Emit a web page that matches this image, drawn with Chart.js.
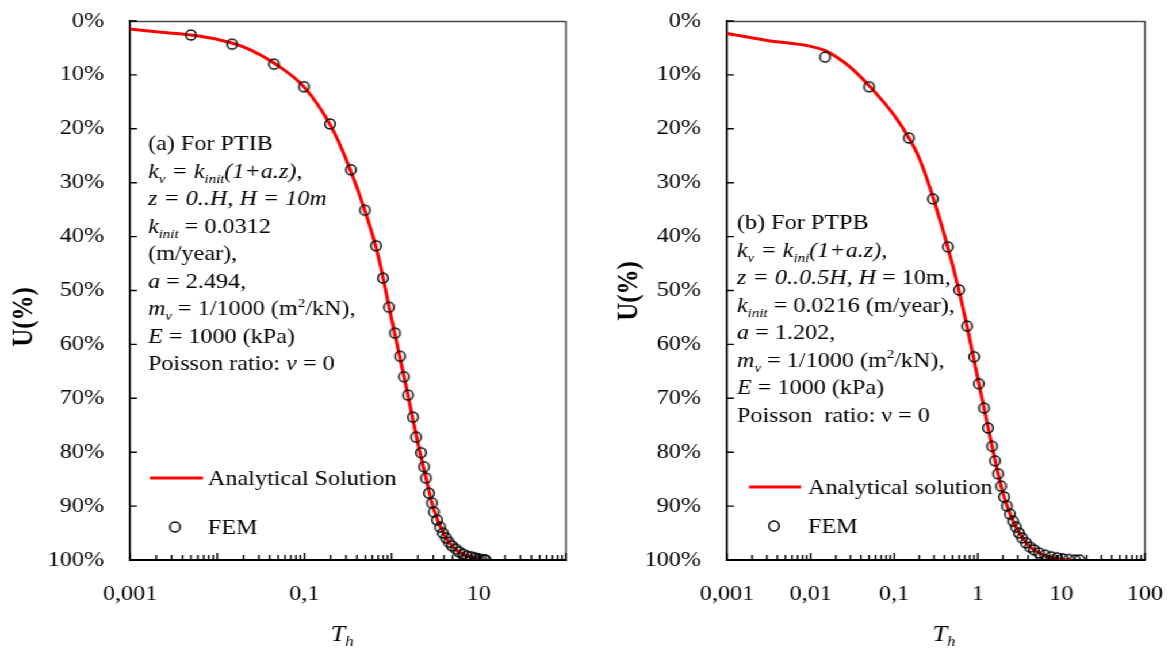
<!DOCTYPE html>
<html><head><meta charset="utf-8">
<script src="https://cdn.jsdelivr.net/npm/chart.js@4.4.0/dist/chart.umd.min.js"></script>
<style>
html,body{margin:0;padding:0;background:#fff;overflow:hidden;width:1172px;height:655px}
#wrap{position:absolute;left:0;top:0;width:1019px;height:655px;transform:scaleX(1.1501472);transform-origin:0 0;display:flex}
canvas{display:block}
</style></head><body>
<div id="wrap"><canvas id="cL" width="510" height="655"></canvas><canvas id="cR" width="509" height="655"></canvas></div>
<script>
// ---------- data ----------
const xTickValues = [0.001, 0.01, 0.1, 1, 10, 100];
const xTickLabelsL = ['0,001', '', '0,1', '', '10', ''];
const xTickLabelsR = ['0,001', '0,01', '0,1', '1', '10', '100'];
const yTickValues = [0, 10, 20, 30, 40, 50, 60, 70, 80, 90, 100];
const yTickLabels = ['0%', '10%', '20%', '30%', '40%', '50%', '60%', '70%', '80%', '90%', '100%'];

// (a) PTIB
const anaT_L = [0.001, 0.002, 0.005, 0.01, 0.02, 0.05, 0.1, 0.2, 0.3, 0.5, 0.7, 1, 1.5, 2, 2.5, 3, 4, 5, 6, 8, 10, 11];
const anaU_L = [1.5, 2.0, 2.6, 3.4, 4.8, 8.3, 12.3, 19.4, 25.6, 35.4, 43.5, 55.3, 68.5, 78.3, 85.0, 90.3, 95.3, 97.5, 98.6, 99.5, 99.9, 100];
const femT_L = [0.005, 0.0148, 0.0448, 0.099, 0.197, 0.342, 0.495, 0.662, 0.796, 0.933, 1.094, 1.248, 1.387, 1.542, 1.759, 1.905, 2.173, 2.354, 2.479, 2.685, 2.90, 3.06, 3.32, 3.59, 3.88, 4.20, 4.55, 4.93, 5.48, 5.93, 6.59, 7.33, 8.14, 9.04, 9.80, 10.6, 11.5, 12.0];
const femU_L = [2.6, 4.3, 8.0, 12.2, 19.1, 27.6, 35.1, 41.7, 47.7, 53.1, 57.9, 62.2, 66.0, 69.4, 73.5, 77.2, 80.1, 82.7, 84.8, 87.6, 89.4, 91.1, 92.6, 93.9, 95.0, 95.9, 96.7, 97.4, 98.0, 98.5, 98.9, 99.3, 99.4, 99.6, 99.8, 99.9, 100, 100];

// (b) PTPB
const anaT_R = [0.001, 0.003, 0.01, 0.015, 0.02, 0.03, 0.05, 0.1, 0.15, 0.2, 0.3, 0.5, 0.7, 1, 1.5, 2, 2.5, 3, 4, 5, 7, 10, 13];
const anaU_R = [2.3, 3.6, 4.7, 5.5, 6.6, 8.6, 12.0, 17.5, 21.7, 25.5, 33.3, 45.3, 54.8, 66.3, 79.3, 87.6, 91.9, 94.5, 97.2, 98.4, 99.4, 99.9, 100];
const femT_R = [0.0149, 0.050, 0.150, 0.291, 0.44, 0.596, 0.743, 0.902, 1.03, 1.186, 1.324, 1.479, 1.607, 1.745, 1.90, 2.06, 2.23, 2.43, 2.64, 2.86, 3.11, 3.38, 3.77, 4.21, 4.70, 5.40, 6.36, 7.51, 8.85, 10.4, 12.3, 14.5, 16.5];
const femU_R = [6.7, 12.2, 21.7, 33.0, 41.9, 49.9, 56.6, 62.3, 67.3, 71.8, 75.5, 78.9, 81.6, 84.0, 86.3, 88.3, 90.0, 91.5, 92.8, 93.9, 95.0, 95.9, 96.8, 97.6, 98.1, 98.7, 99.1, 99.4, 99.6, 99.8, 99.9, 100, 100];

const notesL = [
  [{t:'(a) For PTIB'}],
  [{t:'k',i:1},{t:'v',i:1,sub:1},{t:' = ',i:1},{t:'k',i:1},{t:'init',i:1,sub:1},{t:'(1+a.z),',i:1}],
  [{t:'z = 0..H, H = 10m',i:1}],
  [{t:'k',i:1},{t:'init',i:1,sub:1},{t:' = 0.0312'}],
  [{t:'(m/year),'}],
  [{t:'a',i:1},{t:' = 2.494,'}],
  [{t:'m',i:1},{t:'v',i:1,sub:1},{t:' = 1/1000 (m'},{t:'2',sup:1},{t:'/kN),'}],
  [{t:'E',i:1},{t:' = 1000 (kPa)'}],
  [{t:'Poisson ratio: '},{t:'ν',i:1},{t:' = 0'}]
];
const notesR = [
  [{t:'(b) For PTPB'}],
  [{t:'k',i:1},{t:'v',i:1,sub:1},{t:' = ',i:1},{t:'k',i:1},{t:'ini',i:1,sub:1},{t:'(1+a.z),',i:1}],
  [{t:'z = 0..0.5H, H',i:1},{t:' = 10m,'}],
  [{t:'k',i:1},{t:'init',i:1,sub:1},{t:' = 0.0216 (m/year),'}],
  [{t:'a',i:1},{t:' = 1.202,'}],
  [{t:'m',i:1},{t:'v',i:1,sub:1},{t:' = 1/1000 (m'},{t:'2',sup:1},{t:'/kN),'}],
  [{t:'E',i:1},{t:' = 1000 (kPa)'}],
  [{t:'Poisson  ratio: ν = 0'}]
];

// ---------- drawing helpers ----------
const S = 1172 / 1019;
const FONT = '"Liberation Serif", "Times New Roman", serif';
const FS = 21;

function makeCircle(r, lw) {
  const c = document.createElement('canvas');
  const w = 2 * Math.ceil(r + lw + 1);
  c.width = w; c.height = w;
  const g = c.getContext('2d');
  g.lineWidth = lw; g.strokeStyle = '#000';
  g.beginPath(); g.ellipse(w / 2, w / 2, r / S, r, 0, 0, 2 * Math.PI); g.stroke();
  return c;
}
const circleImg = makeCircle(5.1, 1.5);

function segFont(s, size) {
  const fs = (s.sub || s.sup) ? size * 0.62 : size;
  return (s.i ? 'italic ' : '') + (s.b ? 'bold ' : '') + fs + 'px ' + FONT;
}
function richWidth(ctx, segs, size) {
  let w = 0;
  for (const s of segs) { ctx.font = segFont(s, size); w += ctx.measureText(s.t).width; }
  return w;
}
function drawRich(ctx, x, yc, segs, size) {
  const base = yc + size * 0.34;
  let cx = x;
  ctx.textAlign = 'left'; ctx.textBaseline = 'alphabetic'; ctx.fillStyle = '#000';
  for (const s of segs) {
    ctx.font = segFont(s, size);
    const by = s.sub ? base + size * 0.24 : s.sup ? base - size * 0.4 : base;
    ctx.fillText(s.t, cx, by);
    cx += ctx.measureText(s.t).width;
  }
  return cx;
}

function makeDecor(p) {
  const iX = v => v / S - p.offset;
  return {
    id: 'decor' + p.offset,
    afterDraw(chart) {
      const ctx = chart.ctx, ca = chart.chartArea;
      const xs = chart.scales.x, ys = chart.scales.y;
      ctx.save();
      // top & right frame
      ctx.strokeStyle = '#4a4a4a'; ctx.lineWidth = 1.5;
      ctx.beginPath();
      ctx.moveTo(ca.left, ca.top + 0.5); ctx.lineTo(ca.right, ca.top + 0.5);
      ctx.moveTo(ca.right, ca.top); ctx.lineTo(ca.right, ca.bottom);
      ctx.stroke();
      // inward ticks
      ctx.strokeStyle = '#000'; ctx.lineWidth = 1.4;
      ctx.beginPath();
      for (const v of yTickValues) {
        const py = ys.getPixelForValue(v);
        ctx.moveTo(ca.left, py); ctx.lineTo(ca.left + 7 / S, py);
      }
      for (const d of xTickValues) {
        for (let m = 1; m <= 9; m++) {
          const v = d * m;
          if (v > xs.max * 1.0001) break;
          const px = xs.getPixelForValue(v);
          const len = m === 1 ? 7 : 5;
          ctx.moveTo(px, ca.bottom); ctx.lineTo(px, ca.bottom - len);
        }
      }
      ctx.stroke();
      // notes
      p.notes.forEach((segs, k) => drawRich(ctx, iX(p.noteX), p.noteY + k * 27.5, segs, FS));
      // legend
      const ana = chart.data.datasets[1], fem = chart.data.datasets[0];
      ctx.strokeStyle = ana.borderColor; ctx.lineWidth = ana.borderWidth;
      ctx.beginPath(); ctx.moveTo(iX(p.leg.lx0), p.leg.ly); ctx.lineTo(iX(p.leg.lx1), p.leg.ly); ctx.stroke();
      drawRich(ctx, iX(p.leg.tx), p.leg.ly, [{t: ana.label}], FS);
      ctx.drawImage(circleImg, iX(p.leg.cx) - circleImg.width / 2, p.leg.cy - circleImg.height / 2);
      drawRich(ctx, iX(p.leg.tx), p.leg.cy, [{t: fem.label}], FS);
      // y title
      ctx.save();
      ctx.translate(iX(p.yTitleX), p.yTitleY);
      ctx.rotate(-Math.PI / 2);
      ctx.font = 'bold 25px ' + FONT; ctx.fillStyle = '#000';
      ctx.textAlign = 'center'; ctx.textBaseline = 'middle';
      ctx.fillText('U(%)', 0, 0);
      ctx.restore();
      // x title
      const tsegs = [{t:'T', i:1}, {t:'h', i:1, sub:1}];
      const tw = richWidth(ctx, tsegs, 23);
      drawRich(ctx, iX(p.xTitleX) - tw / 2, 633, tsegs, 23);
      ctx.restore();
    }
  };
}

function buildChart(id, p) {
  return new Chart(document.getElementById(id), {
    type: 'scatter',
    data: {
      datasets: [
        { label: 'FEM', data: p.femT.map((t, i) => ({x: t, y: p.femU[i]})),
          pointStyle: circleImg, pointRadius: 5, showLine: false, order: 0 },
        { label: p.anaLabel, data: p.anaT.map((t, i) => ({x: t, y: p.anaU[i]})),
          showLine: true, borderColor: '#ff0000', borderWidth: 3, pointRadius: 0,
          cubicInterpolationMode: 'monotone', order: 1 }
      ]
    },
    options: {
      responsive: false, animation: false, events: [],
      layout: { padding: { left: 0, right: p.padRight, top: 21, bottom: 0 } },
      plugins: { legend: { display: false }, tooltip: { enabled: false } },
      scales: {
        x: {
          type: 'logarithmic', position: 'bottom', min: 0.001, max: 100,
          grid: { display: false, drawTicks: false },
          border: { display: true, color: '#000', width: 2 },
          afterBuildTicks: s => { s.ticks = xTickValues.map(v => ({value: v})); },
          afterFit: s => { s.height = 95; s.paddingLeft = 0; s.paddingRight = 0; },
          ticks: { autoSkip: false, maxRotation: 0, minRotation: 0, padding: 22, color: '#000',
                   font: { family: FONT, size: FS },
                   callback: (v, i) => p.xLabels[i] }
        },
        y: {
          type: 'linear', reverse: true, min: 0, max: 100,
          grid: { display: false, drawTicks: false },
          border: { display: true, color: '#000', width: 2 / S },
          afterBuildTicks: s => { s.ticks = yTickValues.map(v => ({value: v})); },
          afterFit: s => { s.width = p.chartLeft; s.paddingTop = 0; s.paddingBottom = 0; },
          ticks: { padding: 22.6, color: '#000', font: { family: FONT, size: FS },
                   callback: (v, i) => yTickLabels[i] }
        }
      }
    },
    plugins: [makeDecor(p)]
  });
}

buildChart('cL', {
  offset: 0, chartLeft: 130 / S, padRight: 510 - 566 / S,
  xLabels: xTickLabelsL, anaT: anaT_L, anaU: anaU_L, femT: femT_L, femU: femU_L,
  anaLabel: 'Analytical Solution', notes: notesL, noteX: 148, noteY: 143,
  leg: { lx0: 150, lx1: 203, ly: 478, tx: 208, cx: 175, cy: 527 },
  yTitleX: 25, yTitleY: 317, xTitleX: 342
});
buildChart('cR', {
  offset: 510, chartLeft: 727 / S - 510, padRight: 509 - (1145 / S - 510),
  xLabels: xTickLabelsR, anaT: anaT_R, anaU: anaU_R, femT: femT_R, femU: femU_R,
  anaLabel: 'Analytical solution', notes: notesR, noteX: 737, noteY: 222,
  leg: { lx0: 749, lx1: 801, ly: 487, tx: 808, cx: 774, cy: 526 },
  yTitleX: 630, yTitleY: 291, xTitleX: 944
});
</script>
</body></html>
